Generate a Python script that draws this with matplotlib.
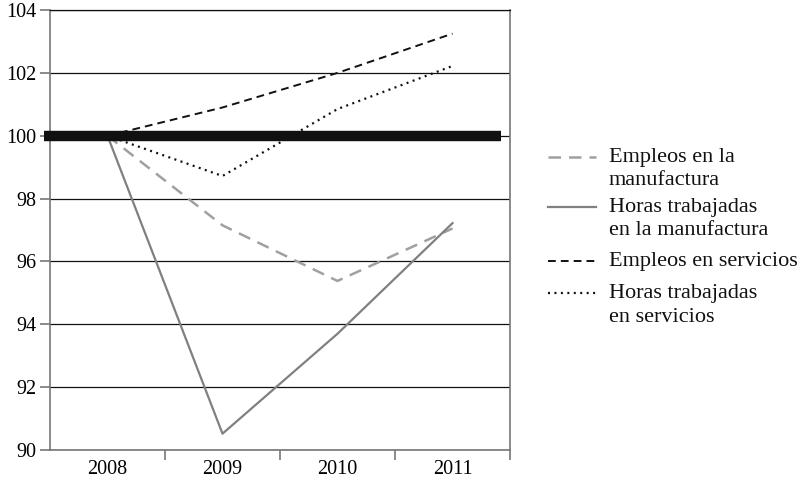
import matplotlib.pyplot as plt
from matplotlib.lines import Line2D

# datos (índice 2008 = 100)
years = ['2008', '2009', '2010', '2011']
empleos_manuf = [100, 97.15, 95.38, 97.05]
horas_manuf = [100, 90.52, 93.7, 97.22]
empleos_serv = [100, 100.9, 102.0, 103.25]
horas_serv = [100, 98.72, 100.85, 102.22]
baseline = 100

plt.rcParams['font.family'] = ['Liberation Serif', 'DejaVu Serif']

fig = plt.figure(figsize=(8, 4.79), dpi=100)
ax = fig.add_axes([0.0625, 0.0605, 0.575, 0.9185])

x = range(len(years))
gray_spine = '#777777'

ax.plot(x, empleos_manuf, color='#a0a0a0', lw=1.8, dashes=(5, 3.2))
ax.plot(x, horas_manuf, color='#808080', lw=1.6)
ax.plot(x, empleos_serv, color='#111111', lw=1.4, dashes=(4, 2.6))
ax.plot(x, horas_serv, color='#111111', lw=1.6, dashes=(0.9, 2.0))
ax.hlines(baseline, -0.55, 3.42, color='#111111', lw=7.5, zorder=5, clip_on=False)

ax.set_xlim(-0.5, 3.5)
ax.set_ylim(90, 104)
ax.set_yticks(range(90, 105, 2))
ax.yaxis.grid(True, color='#111111', lw=0.9)
ax.set_axisbelow(True)

ax.set_xticks(list(x))
ax.set_xticklabels(years)
ax.set_xticks([0.5, 1.5, 2.5, 3.5], minor=True)
ax.tick_params(axis='x', which='major', length=0, pad=7, labelsize=14.5)
ax.tick_params(axis='x', which='minor', length=7, color=gray_spine, width=1.2)
ax.tick_params(axis='y', length=7, color=gray_spine, width=1.2, labelsize=14.5, pad=3)

for s in ['left', 'right', 'bottom']:
    ax.spines[s].set_color(gray_spine)
    ax.spines[s].set_linewidth(1.2)
ax.spines['top'].set_color('#111111')
ax.spines['top'].set_linewidth(0.9)

# leyenda a la derecha
entries = [
    ('Empleos en la\nmanufactura', dict(color='#a0a0a0', lw=1.8, dashes=(5, 3.2)), 0.672),
    ('Horas trabajadas\nen la manufactura', dict(color='#808080', lw=1.6), 0.568),
    ('Empleos en servicios', dict(color='#111111', lw=1.4, dashes=(4, 2.6)), 0.455),
    ('Horas trabajadas\nen servicios', dict(color='#111111', lw=1.6, dashes=(0.9, 2.0)), 0.388),
]
for label, style, yy in entries:
    fig.add_artist(Line2D([0.685, 0.745], [yy, yy], transform=fig.transFigure, **style))
    fig.text(0.761, yy + 0.019, label, fontsize=16, va='top', ha='left',
             linespacing=1.32, color='#111111')

plt.savefig('out.png', dpi=100)
plt.close()
